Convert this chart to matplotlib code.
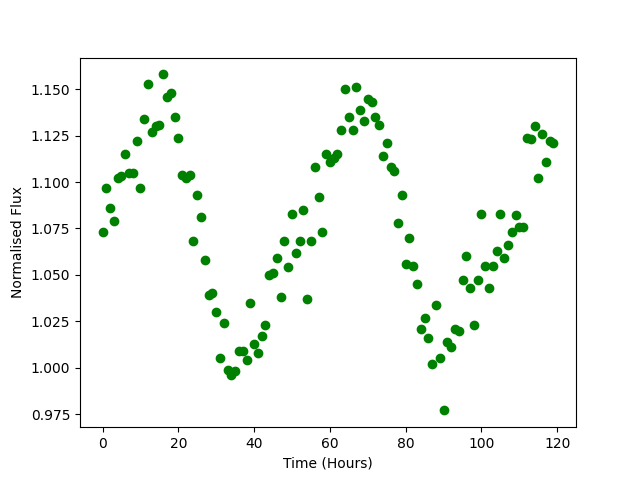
import numpy as np
import matplotlib
matplotlib.use("Agg")
import matplotlib.pyplot as plt

# hourly samples
hours = np.arange(120)
flux = [
    1.073, 1.097, 1.086, 1.079, 1.102, 1.103, 1.115, 1.105, 1.105, 1.122,
    1.097, 1.134, 1.153, 1.127, 1.130, 1.131, 1.158, 1.146, 1.148, 1.135,
    1.124, 1.104, 1.102, 1.104, 1.068, 1.093, 1.081, 1.058, 1.039, 1.040,
    1.030, 1.005, 1.024, 0.999, 0.996, 0.998, 1.009, 1.009, 1.004, 1.035,
    1.013, 1.008, 1.017, 1.023, 1.050, 1.051, 1.059, 1.038, 1.068, 1.054,
    1.083, 1.062, 1.068, 1.085, 1.037, 1.068, 1.108, 1.092, 1.073, 1.115,
    1.111, 1.113, 1.115, 1.128, 1.150, 1.135, 1.128, 1.151, 1.139, 1.133,
    1.145, 1.143, 1.135, 1.131, 1.114, 1.121, 1.108, 1.106, 1.078, 1.093,
    1.056, 1.070, 1.055, 1.045, 1.021, 1.027, 1.016, 1.002, 1.034, 1.005,
    0.977, 1.014, 1.011, 1.021, 1.020, 1.047, 1.060, 1.043, 1.023, 1.047,
    1.083, 1.055, 1.043, 1.055, 1.063, 1.083, 1.059, 1.066, 1.073, 1.082,
    1.076, 1.076, 1.124, 1.123, 1.130, 1.102, 1.126, 1.111, 1.122, 1.121,
]

fig, ax = plt.subplots(figsize=(6.4, 4.8), dpi=100)
ax.plot(hours, flux, 'o', color='green')
ax.set_xlabel('Time (Hours)')
ax.set_ylabel('Normalised Flux')
fig.savefig('out.png')
